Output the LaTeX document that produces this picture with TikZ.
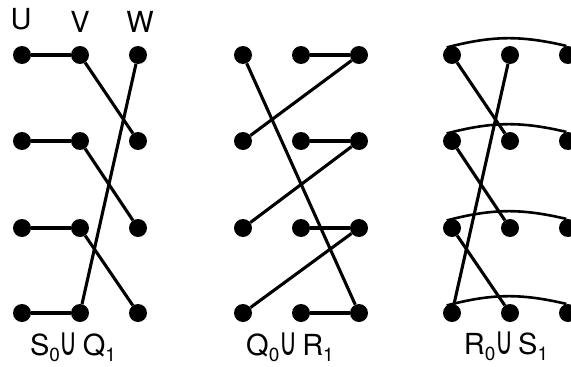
\documentclass[tikz,border=0pt]{standalone}
\usepackage{fontspec}
\usepackage{graphicx}
\setmainfont{TeX Gyre Heros}
\newfontfamily\symfam{DejaVu Sans}
\newcommand{\unionsym}{\scalebox{0.85}[1.35]{\symfam ∪}}
\newcommand{\subdig}[1]{\raisebox{-6pt}{\fontsize{19}{19}\selectfont #1}}
\begin{document}
\begin{tikzpicture}[x=1pt,y=-1pt,
  dot/.style={circle,fill=black,inner sep=0pt,minimum size=18pt},
  edge/.style={line width=3.1pt},
  hoop/.style={line width=2.6pt},
  lab/.style={font=\fontsize{29}{29}\selectfont,inner sep=0pt,anchor=base},
]
\useasboundingbox (0,0) rectangle (571,367);

% three panels of 3 x 4 vertices
\foreach \p/\x in {a/22,b/243,c/452}{
  \foreach \r/\y in {1/55,2/141,3/228,4/313}{
    \node[dot] (\p u\r) at (\x,\y) {};
    \node[dot] (\p v\r) at (\x+58,\y) {};
    \node[dot] (\p w\r) at (\x+116,\y) {};
  }
}

% column labels
\node[lab] (lu) at (21,29) {U};
\node[lab] (lv) at (80,32) {V};
\node[lab] (lw) at (140,32) {W};

% first panel
\draw[edge] (au1) -- (av1);
\draw[edge] (au2) -- (av2);
\draw[edge] (au3) -- (av3);
\draw[edge] (au4) -- (av4);
\draw[edge] (av1) -- (aw2);
\draw[edge] (av2) -- (aw3);
\draw[edge] (av3) -- (aw4);
\draw[edge] (aw1) -- (av4);

% second panel
\draw[edge] (bv1) -- (bw1);
\draw[edge] (bv2) -- (bw2);
\draw[edge] (bv3) -- (bw3);
\draw[edge] (bv4) -- (bw4);
\draw[edge] (bw1) -- (bu2);
\draw[edge] (bw2) -- (bu3);
\draw[edge] (bw3) -- (bu4);
\draw[edge] (bu1) -- (bw4);

% third panel
\foreach \r in {1,2,3,4}{
  \draw[hoop] (cu\r.125) to[bend left=14] (cw\r.100);
}
\draw[edge] (cu1) -- (cv2);
\draw[edge] (cu2) -- (cv3);
\draw[edge] (cu3) -- (cv4);
\draw[edge] (cv1) -- (cu4);

% panel captions
\node[lab] (ta) at (73,355) {S\subdig{0}\unionsym\,Q\subdig{1}};
\node[lab] (tb) at (290,355) {Q\subdig{0}\unionsym\,R\subdig{1}};
\node[lab] (tc) at (506,354) {R\subdig{0}\unionsym\,S\subdig{1}};
\end{tikzpicture}
\end{document}
